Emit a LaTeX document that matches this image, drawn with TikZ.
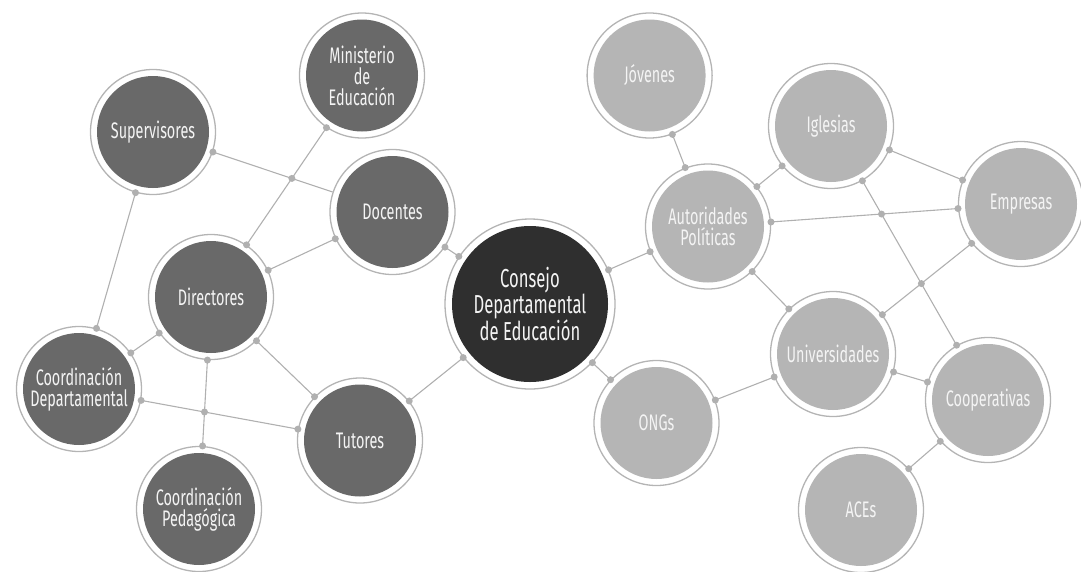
\documentclass[tikz,border=0pt]{standalone}
\usepackage{fontspec}
\newfontfamily\lbl{Fira Sans}[FakeStretch=0.64]
\definecolor{ringgray}{HTML}{B4B4B4}
\definecolor{linegray}{HTML}{B0B0B0}
\definecolor{nodedark}{HTML}{696969}
\definecolor{nodelight}{HTML}{B5B5B5}
\definecolor{hubdark}{HTML}{2F2F2F}
\definecolor{labelwhite}{HTML}{F4F4F4}
\begin{document}
\begin{tikzpicture}[
		x=1pt,y=-1pt,
		ring/.style={circle,draw=ringgray,line width=1.3pt,fill=white,inner sep=0pt,minimum size=125pt,align=center,text=labelwhite,font=\lbl\fontsize{22.5}{21}\selectfont},
		dk/.style={ring,path picture={\fill[nodedark] (path picture bounding box.center) circle (56pt);}},
		lt/.style={ring,path picture={\fill[nodelight] (path picture bounding box.center) circle (56pt);}},
		hub/.style={ring,minimum size=170pt,font=\lbl\fontsize{26}{26}\selectfont,path picture={\fill[hubdark] (path picture bounding box.center) circle (78pt);}},
		link/.style={draw=linegray,line width=1.1pt},
		dot/.style={circle,fill=linegray,inner sep=0pt,minimum size=7pt}
		]
		\useasboundingbox (0,0) rectangle (1081,571);
		\node[dk] (min) at (362,75.5) {Ministerio\\de\\Educación};
		\node[dk] (sup) at (153,132) {Supervisores};
		\node[dk] (doc) at (392.5,212) {Docentes};
		\node[dk] (dir) at (211,297) {Directores};
		\node[dk] (cdep) at (79,389) {Coordinación\\Departamental};
		\node[dk] (cped) at (199,509) {Coordinación\\Pedagógica};
		\node[dk] (tut) at (360,440.5) {Tutores};
		\node[hub] (cde) at (530,304) {Consejo\\Departamental\\de Educación};
		\node[lt] (jov) at (649.6,75.5) {Jóvenes};
		\node[lt] (igl) at (831,126) {Iglesias};
		\node[lt] (emp) at (1021,204) {Empresas};
		\node[lt] (aut) at (708,226.5) {Autoridades\\Políticas};
		\node[lt] (uni) at (833,354) {Universidades};
		\node[lt] (coo) at (988,400) {Cooperativas};
		\node[lt] (ong) at (656.5,423) {ONGs};
		\node[lt] (ace) at (861,510) {ACEs};
		\draw[link] (sup) -- (doc) node[dot,pos=0]{};
		\draw[link] (min) -- (dir) node[dot,pos=0]{} node[dot,pos=1]{};
		\draw[link] (sup) -- (cdep) node[dot,pos=0]{} node[dot,pos=1]{};
		\draw[link] (doc) -- (dir) node[dot,pos=0]{} node[dot,pos=1]{};
		\draw[link] (doc) -- (cde) node[dot,pos=0]{} node[dot,pos=1]{};
		\draw[link] (dir) -- (cdep) node[dot,pos=0]{} node[dot,pos=1]{};
		\draw[link] (dir) -- (tut) node[dot,pos=0]{} node[dot,pos=1]{};
		\draw[link] (dir) -- (cped) node[dot,pos=0]{} node[dot,pos=1]{};
		\draw[link] (cdep) -- (tut) node[dot,pos=0]{} node[dot,pos=1]{};
		\draw[link] (tut) -- (cde) node[dot,pos=0]{} node[dot,pos=1]{};
		\draw[link] (cde) -- (aut) node[dot,pos=0]{} node[dot,pos=1]{};
		\draw[link] (jov) -- (aut) node[dot,pos=0]{} node[dot,pos=1]{};
		\draw[link] (aut) -- (igl) node[dot,pos=0]{} node[dot,pos=1]{};
		\draw[link] (igl) -- (emp) node[dot,pos=0]{} node[dot,pos=1]{};
		\draw[link] (aut) -- (emp) node[dot,pos=0]{} node[dot,pos=1]{};
		\draw[link] (igl) -- (coo) node[dot,pos=0]{} node[dot,pos=1]{};
		\draw[link] (emp) -- (uni) node[dot,pos=0]{} node[dot,pos=1]{};
		\draw[link] (aut) -- (uni) node[dot,pos=0]{} node[dot,pos=1]{};
		\draw[link] (uni) -- (coo) node[dot,pos=0]{} node[dot,pos=1]{};
		\draw[link] (uni) -- (ong) node[dot,pos=0]{} node[dot,pos=1]{};
		\draw[link] (cde) -- (ong) node[dot,pos=0]{} node[dot,pos=1]{};
		\draw[link] (coo) -- (ace) node[dot,pos=0]{} node[dot,pos=1]{};
		\node[dot] (x1) at (intersection of sup--doc and min--dir) {};
		\node[dot] (x2) at (intersection of dir--cped and cdep--tut) {};
		\node[dot] (x3) at (intersection of aut--emp and igl--coo) {};
		\node[dot] (x4) at (intersection of igl--coo and emp--uni) {};
\end{tikzpicture}
\end{document}
